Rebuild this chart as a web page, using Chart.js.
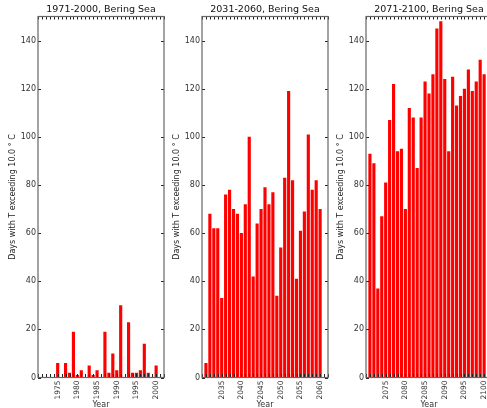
<!DOCTYPE html>
<html>
<head>
<meta charset="utf-8">
<script src="https://cdn.jsdelivr.net/npm/chart.js@4.4.0/dist/chart.umd.min.js"></script>
<style>
  html, body { margin: 0; padding: 0; background: #fff; overflow: hidden; width: 487px; height: 408px; }
  canvas { position: absolute; top: 0; }
</style>
</head>
<body>
<canvas id="p1" width="170" height="408" style="left:0px"></canvas>
<canvas id="p2" width="170" height="408" style="left:164px"></canvas>
<canvas id="p3" width="170" height="408" style="left:328px"></canvas>
<script>
// Days per year with T above 10 C, Bering Sea, three 30-year periods
const region = 'Bering Sea';
const periods = ['1971-2000', '2031-2060', '2071-2100'];
const startYears = [1971, 2031, 2071];

const days1971 = [0, 0, 0, 0, 6, 0, 6, 2, 19, 1, 3, 0, 5, 1, 3, 0, 19, 2, 10, 3, 30, 0, 23, 2, 2, 3, 14, 2, 0, 5];
const days2031 = [6, 68, 62, 62, 33, 76, 78, 70, 68, 60, 72, 100, 42, 64, 70, 79, 72, 77, 34, 54, 83, 119, 82, 41, 61, 69, 101, 78, 82, 70];
const days2071 = [93, 89, 37, 67, 81, 107, 122, 94, 95, 70, 112, 108, 87, 108, 123, 118, 126, 145, 148, 124, 94, 125, 113, 117, 120, 128, 119, 123, 132, 126];

const yTicks = [0, 20, 40, 60, 80, 100, 120, 140];
const yLabel = 'Days with T exceeding 10.0 ° C';
const xLabel = 'Year';

Chart.defaults.font.family = 'DejaVu Sans';
Chart.defaults.color = '#333';

// box round the plot plus inward tick marks on all four sides
const framePlugin = {
  id: 'frame',
  afterDatasetsDraw(chart) {
    const { ctx, chartArea: a, scales: { x, y } } = chart;
    ctx.save();
    ctx.strokeStyle = '#222';
    ctx.lineWidth = 1;
    ctx.beginPath();
    x.ticks.forEach(t => {
      const px = Math.round(x.getPixelForValue(t.value)) + 0.5;
      ctx.moveTo(px, a.bottom); ctx.lineTo(px, a.bottom - 3.5);
      ctx.moveTo(px, a.top); ctx.lineTo(px, a.top + 3);
    });
    yTicks.forEach(v => {
      const py = Math.round(y.getPixelForValue(v)) + 0.5;
      ctx.moveTo(a.left, py); ctx.lineTo(a.left + 3, py);
      ctx.moveTo(a.right, py); ctx.lineTo(a.right - 3, py);
    });
    ctx.stroke();
    ctx.strokeStyle = '#666';
    ctx.lineWidth = 1.2;
    ctx.strokeRect(a.left, a.top, a.right - a.left, a.bottom - a.top);
    ctx.restore();
  }
};

function makePanel(id, period, start, values) {
  const years = values.map((_, i) => start + i);
  return new Chart(document.getElementById(id), {
    type: 'bar',
    data: {
      datasets: [{
        data: years.map((yr, i) => ({ x: yr, y: values[i] })),
        backgroundColor: '#ff0000',
        borderWidth: 0,
        barPercentage: 0.8,
        categoryPercentage: 1.0
      }]
    },
    options: {
      responsive: false,
      animation: false,
      layout: { padding: { left: 0, right: 6, top: 0, bottom: 0 } },
      plugins: {
        legend: { display: false },
        tooltip: { enabled: false },
        title: {
          display: true,
          text: period + ', ' + region,
          fullSize: false,
          color: '#111',
          font: { size: 9.5, weight: 'normal' },
          padding: { top: 4, bottom: 1.1 }
        }
      },
      scales: {
        x: {
          type: 'linear',
          min: start - 1,
          max: start + 31,
          offset: false,
          grid: { display: false, drawTicks: false },
          border: { display: false },
          ticks: {
            stepSize: 1,
            autoSkip: false,
            minRotation: 90,
            maxRotation: 90,
            padding: 3,
            color: '#333',
            font: { size: 7.5 },
            callback: v => (v % 5 === 0 && v >= start && v < start + 30) ? String(v) : ''
          },
          title: {
            display: true,
            text: xLabel,
            color: '#333',
            font: { size: 8, lineHeight: 0.75 },
            padding: { top: 0, bottom: 0 }
          },
          afterFit: s => { s.height = 30.5; s.paddingLeft = 0; s.paddingRight = 0; }
        },
        y: {
          min: 0,
          max: 150,
          grid: { display: false, drawTicks: false },
          border: { display: false },
          ticks: {
            stepSize: 20,
            includeBounds: false,
            padding: 2,
            color: '#333',
            font: { size: 8 }
          },
          title: {
            display: true,
            text: yLabel,
            color: '#222',
            font: { size: 8 },
            padding: { top: 8.2, bottom: 0 }
          },
          afterFit: s => { s.width = 38; s.paddingTop = 0; s.paddingBottom = 0; }
        }
      }
    },
    plugins: [framePlugin]
  });
}

makePanel('p1', periods[0], startYears[0], days1971);
makePanel('p2', periods[1], startYears[1], days2031);
makePanel('p3', periods[2], startYears[2], days2071);
</script>
</body>
</html>
